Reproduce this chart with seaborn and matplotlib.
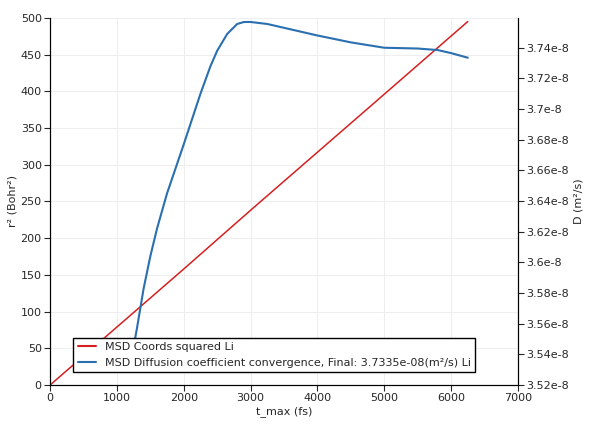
import matplotlib
matplotlib.use("Agg")
import matplotlib.pyplot as plt
import seaborn as sns
from matplotlib.lines import Line2D

msd_t = [0, 1000, 2000, 3000, 4000, 5000, 6250]
msd_r2 = [0, 79, 158, 238, 317, 396, 495]

d_t = [1250, 1300, 1400, 1500, 1600, 1750, 2000, 2250, 2400, 2500, 2650, 2800, 2900, 3000, 3250, 3500, 4000, 4500, 5000, 5500, 5800, 6000, 6250]
d_val = [3.545e-8, 3.557e-8, 3.583e-8, 3.604e-8, 3.622e-8, 3.645e-8, 3.677e-8, 3.710e-8, 3.728e-8, 3.738e-8, 3.749e-8, 3.7555e-8, 3.7568e-8, 3.7568e-8, 3.7555e-8, 3.753e-8, 3.748e-8, 3.7435e-8, 3.740e-8, 3.7395e-8, 3.7385e-8, 3.7365e-8, 3.7335e-8]

sns.set_style("white")
plt.rcParams['font.family'] = ['DejaVu Sans']
fig = plt.figure(figsize=(5.96, 4.25), dpi=100)
ax = fig.add_axes([0.084, 0.094, 0.785, 0.864])
ax2 = ax.twinx()

sns.lineplot(x=msd_t, y=msd_r2, ax=ax, color="#d62020", lw=1.1, legend=False)
sns.lineplot(x=d_t, y=d_val, ax=ax2, color="#2a6fb0", lw=1.5, legend=False)

ax.set_xlim(0, 7000)
ax.set_ylim(0, 500)
ax.set_xticks(range(0, 7001, 1000))
ax.set_yticks(range(0, 501, 50))
ax2.set_ylim(3.52e-8, 3.7595e-8)
yt = [3.52e-8 + 0.02e-8 * i for i in range(12)]
ax2.set_yticks(yt)
ax2.set_yticklabels([f"{v*1e8:.2f}".rstrip('0').rstrip('.') + "e-8" for v in yt])
ax.grid(True, color="#eeeeee", lw=0.8)
for a in (ax, ax2):
    a.tick_params(labelsize=8, length=4, pad=2, direction="out", left=a is ax, right=a is ax2, bottom=True)
    a.spines['top'].set_visible(False)
    for s in ('left', 'right', 'bottom'):
        a.spines[s].set_color('black')
ax.set_xlabel("t_max (fs)", fontsize=8, labelpad=2)
ax.set_ylabel("r² (Bohr²)", fontsize=8, labelpad=2)
ax2.set_ylabel("D (m²/s)", fontsize=8, labelpad=3)

handles = [Line2D([], [], color="#d62020", lw=1.5), Line2D([], [], color="#2a6fb0", lw=1.5)]
leg = ax2.legend(handles, ["MSD Coords squared Li", "MSD Diffusion coefficient convergence, Final: 3.7335e-08(m²/s) Li"],
                 loc="lower left", bbox_to_anchor=(0.05, 0.035), fontsize=8, frameon=True, fancybox=False,
                 borderaxespad=0, handlelength=1.6)
leg.get_frame().set_edgecolor("black")
leg.get_frame().set_alpha(1)
fig.savefig("out.png", dpi=100)
